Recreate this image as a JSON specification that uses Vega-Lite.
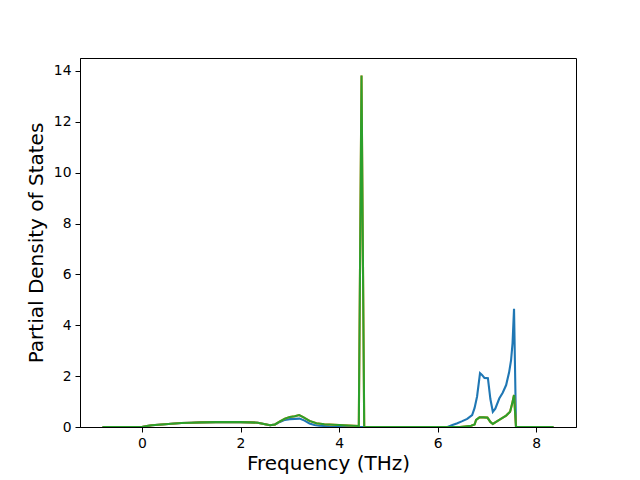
{
  "$schema": "https://vega.github.io/schema/vega-lite/v6.json",
  "width": 496,
  "height": 369,
  "autosize": {"type": "none"},
  "padding": {"left": 80, "top": 58, "right": 64, "bottom": 53},
  "background": "white",
  "config": {
    "font": "DejaVu Sans",
    "view": {"stroke": "black", "strokeWidth": 1},
    "axis": {
      "grid": false,
      "domainColor": "black",
      "tickColor": "black",
      "tickSize": 5,
      "labelFontSize": 13.9,
      "labelColor": "black",
      "labelPadding": 4,
      "titleFontSize": 20,
      "titleFontWeight": "normal",
      "titleColor": "black"
    }
  },
  "data": {
    "values": [
      {"s": "s1", "f": -0.8, "d": 0}, {"s": "s1", "f": 0, "d": 0}, {"s": "s1", "f": 0.1, "d": 0.04}, {"s": "s1", "f": 0.2, "d": 0.07}, {"s": "s1", "f": 0.4, "d": 0.1}, {"s": "s1", "f": 0.6, "d": 0.13}, {"s": "s1", "f": 0.8, "d": 0.16}, {"s": "s1", "f": 1.0, "d": 0.17}, {"s": "s1", "f": 1.2, "d": 0.18}, {"s": "s1", "f": 1.5, "d": 0.19}, {"s": "s1", "f": 1.8, "d": 0.19}, {"s": "s1", "f": 2.0, "d": 0.19}, {"s": "s1", "f": 2.2, "d": 0.18}, {"s": "s1", "f": 2.35, "d": 0.17}, {"s": "s1", "f": 2.5, "d": 0.11}, {"s": "s1", "f": 2.6, "d": 0.07}, {"s": "s1", "f": 2.7, "d": 0.1},
      {"s": "s1", "f": 2.8, "d": 0.2}, {"s": "s1", "f": 2.9, "d": 0.28}, {"s": "s1", "f": 3.0, "d": 0.31}, {"s": "s1", "f": 3.1, "d": 0.32}, {"s": "s1", "f": 3.2, "d": 0.33}, {"s": "s1", "f": 3.3, "d": 0.25}, {"s": "s1", "f": 3.4, "d": 0.14}, {"s": "s1", "f": 3.5, "d": 0.08}, {"s": "s1", "f": 3.6, "d": 0.05}, {"s": "s1", "f": 3.8, "d": 0.03}, {"s": "s1", "f": 4.0, "d": 0.02}, {"s": "s1", "f": 4.2, "d": 0.01}, {"s": "s1", "f": 4.4, "d": 0}, {"s": "s1", "f": 5.0, "d": 0}, {"s": "s1", "f": 6.2, "d": 0},
      {"s": "s1", "f": 6.3, "d": 0.08}, {"s": "s1", "f": 6.4, "d": 0.15}, {"s": "s1", "f": 6.5, "d": 0.23}, {"s": "s1", "f": 6.6, "d": 0.32}, {"s": "s1", "f": 6.7, "d": 0.47}, {"s": "s1", "f": 6.75, "d": 0.75}, {"s": "s1", "f": 6.8, "d": 1.2}, {"s": "s1", "f": 6.86, "d": 2.12}, {"s": "s1", "f": 6.9, "d": 2.05}, {"s": "s1", "f": 6.95, "d": 1.93}, {"s": "s1", "f": 7.02, "d": 1.92}, {"s": "s1", "f": 7.07, "d": 1.1}, {"s": "s1", "f": 7.12, "d": 0.6}, {"s": "s1", "f": 7.17, "d": 0.72}, {"s": "s1", "f": 7.25, "d": 1.12}, {"s": "s1", "f": 7.32, "d": 1.35}, {"s": "s1", "f": 7.39, "d": 1.65}, {"s": "s1", "f": 7.45, "d": 2.15}, {"s": "s1", "f": 7.49, "d": 2.63}, {"s": "s1", "f": 7.52, "d": 3.3}, {"s": "s1", "f": 7.55, "d": 4.65}, {"s": "s1", "f": 7.59, "d": 0}, {"s": "s1", "f": 8.0, "d": 0}, {"s": "s1", "f": 8.35, "d": 0},

      {"s": "s2", "f": -0.8, "d": 0}, {"s": "s2", "f": 0, "d": 0}, {"s": "s2", "f": 0.1, "d": 0.04}, {"s": "s2", "f": 0.2, "d": 0.07}, {"s": "s2", "f": 0.4, "d": 0.1}, {"s": "s2", "f": 0.6, "d": 0.13}, {"s": "s2", "f": 0.8, "d": 0.16}, {"s": "s2", "f": 1.0, "d": 0.17}, {"s": "s2", "f": 1.2, "d": 0.18}, {"s": "s2", "f": 1.5, "d": 0.19}, {"s": "s2", "f": 1.8, "d": 0.19}, {"s": "s2", "f": 2.0, "d": 0.19}, {"s": "s2", "f": 2.2, "d": 0.18}, {"s": "s2", "f": 2.35, "d": 0.17}, {"s": "s2", "f": 2.5, "d": 0.11}, {"s": "s2", "f": 2.6, "d": 0.07}, {"s": "s2", "f": 2.7, "d": 0.1},
      {"s": "s2", "f": 2.8, "d": 0.22}, {"s": "s2", "f": 2.9, "d": 0.33}, {"s": "s2", "f": 3.0, "d": 0.39}, {"s": "s2", "f": 3.1, "d": 0.42}, {"s": "s2", "f": 3.19, "d": 0.47}, {"s": "s2", "f": 3.28, "d": 0.38}, {"s": "s2", "f": 3.4, "d": 0.24}, {"s": "s2", "f": 3.54, "d": 0.15}, {"s": "s2", "f": 3.7, "d": 0.11}, {"s": "s2", "f": 3.9, "d": 0.09}, {"s": "s2", "f": 4.1, "d": 0.07}, {"s": "s2", "f": 4.3, "d": 0.05}, {"s": "s2", "f": 4.4, "d": 0.04}, {"s": "s2", "f": 4.455, "d": 13.82}, {"s": "s2", "f": 4.51, "d": 0}, {"s": "s2", "f": 5.0, "d": 0}, {"s": "s2", "f": 6.0, "d": 0}, {"s": "s2", "f": 6.45, "d": 0},
      {"s": "s2", "f": 6.55, "d": 0.02}, {"s": "s2", "f": 6.68, "d": 0.05}, {"s": "s2", "f": 6.75, "d": 0.1}, {"s": "s2", "f": 6.78, "d": 0.28}, {"s": "s2", "f": 6.85, "d": 0.38}, {"s": "s2", "f": 6.93, "d": 0.38}, {"s": "s2", "f": 7.01, "d": 0.37}, {"s": "s2", "f": 7.07, "d": 0.2}, {"s": "s2", "f": 7.12, "d": 0.12}, {"s": "s2", "f": 7.25, "d": 0.28}, {"s": "s2", "f": 7.39, "d": 0.45}, {"s": "s2", "f": 7.47, "d": 0.6}, {"s": "s2", "f": 7.51, "d": 0.9}, {"s": "s2", "f": 7.55, "d": 1.26}, {"s": "s2", "f": 7.59, "d": 0}, {"s": "s2", "f": 8.0, "d": 0}, {"s": "s2", "f": 8.35, "d": 0},

      {"s": "s3", "f": -0.8, "d": 0}, {"s": "s3", "f": 0, "d": 0}, {"s": "s3", "f": 0.1, "d": 0.04}, {"s": "s3", "f": 0.2, "d": 0.07}, {"s": "s3", "f": 0.4, "d": 0.1}, {"s": "s3", "f": 0.6, "d": 0.13}, {"s": "s3", "f": 0.8, "d": 0.16}, {"s": "s3", "f": 1.0, "d": 0.17}, {"s": "s3", "f": 1.2, "d": 0.18}, {"s": "s3", "f": 1.5, "d": 0.19}, {"s": "s3", "f": 1.8, "d": 0.19}, {"s": "s3", "f": 2.0, "d": 0.19}, {"s": "s3", "f": 2.2, "d": 0.18}, {"s": "s3", "f": 2.35, "d": 0.17}, {"s": "s3", "f": 2.5, "d": 0.11}, {"s": "s3", "f": 2.6, "d": 0.07}, {"s": "s3", "f": 2.7, "d": 0.1},
      {"s": "s3", "f": 2.8, "d": 0.22}, {"s": "s3", "f": 2.9, "d": 0.33}, {"s": "s3", "f": 3.0, "d": 0.39}, {"s": "s3", "f": 3.1, "d": 0.42}, {"s": "s3", "f": 3.19, "d": 0.47}, {"s": "s3", "f": 3.28, "d": 0.38}, {"s": "s3", "f": 3.4, "d": 0.24}, {"s": "s3", "f": 3.54, "d": 0.15}, {"s": "s3", "f": 3.7, "d": 0.11}, {"s": "s3", "f": 3.9, "d": 0.09}, {"s": "s3", "f": 4.1, "d": 0.07}, {"s": "s3", "f": 4.3, "d": 0.05}, {"s": "s3", "f": 4.4, "d": 0.04}, {"s": "s3", "f": 4.455, "d": 13.82}, {"s": "s3", "f": 4.51, "d": 0}, {"s": "s3", "f": 5.0, "d": 0}, {"s": "s3", "f": 6.0, "d": 0}, {"s": "s3", "f": 6.45, "d": 0},
      {"s": "s3", "f": 6.55, "d": 0.02}, {"s": "s3", "f": 6.68, "d": 0.05}, {"s": "s3", "f": 6.75, "d": 0.1}, {"s": "s3", "f": 6.78, "d": 0.28}, {"s": "s3", "f": 6.85, "d": 0.38}, {"s": "s3", "f": 6.93, "d": 0.38}, {"s": "s3", "f": 7.01, "d": 0.37}, {"s": "s3", "f": 7.07, "d": 0.2}, {"s": "s3", "f": 7.12, "d": 0.12}, {"s": "s3", "f": 7.25, "d": 0.28}, {"s": "s3", "f": 7.39, "d": 0.45}, {"s": "s3", "f": 7.47, "d": 0.6}, {"s": "s3", "f": 7.51, "d": 0.9}, {"s": "s3", "f": 7.55, "d": 1.26}, {"s": "s3", "f": 7.59, "d": 0}, {"s": "s3", "f": 8.0, "d": 0}, {"s": "s3", "f": 8.35, "d": 0}
    ]
  },
  "mark": {"type": "line", "strokeWidth": 2.1, "clip": true},
  "encoding": {
    "x": {
      "field": "f", "type": "quantitative", "title": "Frequency (THz)",
      "scale": {"domain": [-1.2575, 8.8075], "nice": false, "zero": false},
      "axis": {"values": [0, 2, 4, 6, 8], "titlePadding": 4}
    },
    "y": {
      "field": "d", "type": "quantitative", "title": "Partial Density of States",
      "scale": {"domain": [0, 14.51], "nice": false},
      "axis": {"values": [0, 2, 4, 6, 8, 10, 12, 14], "titlePadding": 7}
    },
    "color": {
      "field": "s", "type": "nominal", "legend": null,
      "scale": {"domain": ["s1", "s2", "s3"], "range": ["#1f77b4", "#ff7f0e", "#2ca02c"]}
    },
    "order": {"field": "f", "type": "quantitative"}
  }
}
